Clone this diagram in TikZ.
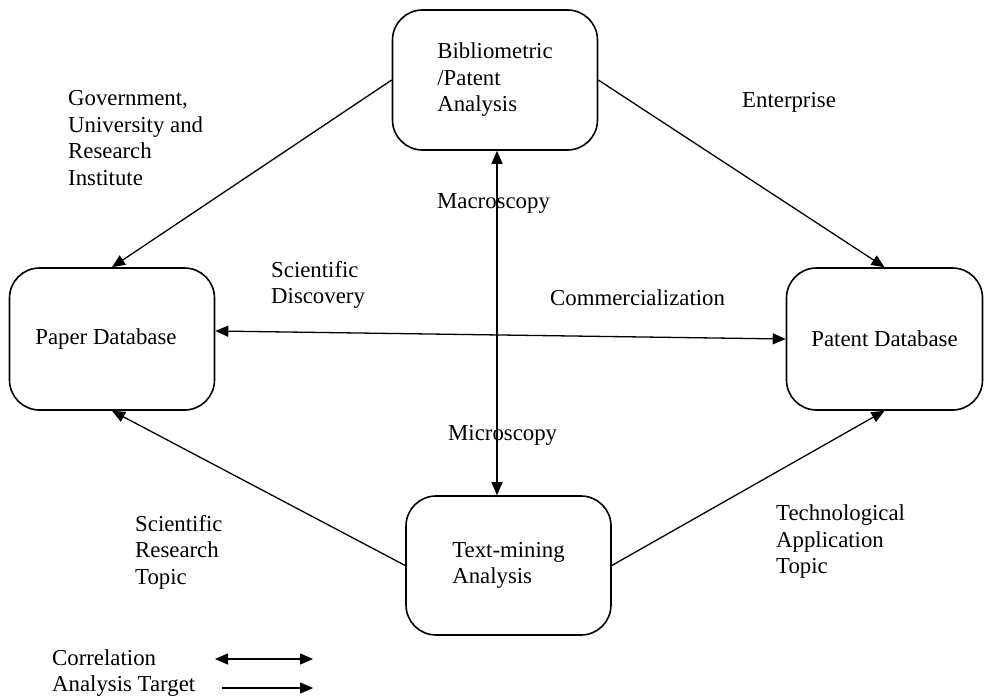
\documentclass[tikz,border=0pt]{standalone}
\usepackage{fontspec}
\setmainfont{Liberation Serif}
\usetikzlibrary{arrows.meta,calc}
\begin{document}
\begin{tikzpicture}[x=1pt,y=-1pt,
  every node/.style={font=\fontsize{22.8}{26.5}\selectfont},
  box/.style={draw,line width=1.6pt,rounded corners=30pt,align=left,inner sep=0pt},
  lbl/.style={anchor=west,align=left,inner sep=0pt},
  conn/.style={line width=1.3pt,-{Triangle[length=13pt,width=11pt]}},
  corr/.style={line width=1.3pt,{Triangle[length=13pt,width=11pt]}-{Triangle[length=13pt,width=11pt]}}]
\useasboundingbox (0,0) rectangle (985,696);
\node[box,minimum width=205pt,minimum height=140pt] (bib) at (495,80) {Bibliometric\\/Patent\\Analysis};
\node[box,minimum width=205pt,minimum height=142pt] (paper) at (112,339) {Paper Database\hspace*{12pt}};
\node[box,minimum width=196pt,minimum height=142pt] (patent) at (884.5,339) {Patent Database};
\node[box,minimum width=205pt,minimum height=139pt] (tm) at (508.5,565.5) {Text-mining\\Analysis\hspace*{10pt}};

\draw[conn] (bib.west) -- (paper.north);
\draw[conn] (bib.east) -- (patent.north);
\draw[conn] (tm.west) -- (paper.south);
\draw[conn] (tm.east) -- (patent.south);
\coordinate (vt) at ($(bib.south)+(2,0)$);
\draw[corr] (vt) -- (vt |- tm.north);
\draw[corr] ([yshift=8pt]paper.east) -- (patent.west);

\node[lbl] at (68,138) {Government,\\University and\\Research\\Institute};
\node[lbl] at (742,102) {Enterprise};
\node[lbl] at (437,203) {Macroscopy};
\node[lbl] at (271,285) {Scientific\\Discovery};
\node[lbl] at (550,298) {Commercialization};
\node[lbl] at (448,435) {Microscopy};
\node[lbl] at (135,552) {Scientific\\Research\\Topic};
\node[lbl] at (776,542) {Technological\\Application\\Topic};

\node[lbl] (lc) at (52,658) {Correlation};
\node[lbl] (la) at (52,686) {Analysis Target};
\coordinate (c1) at (215,659);
\coordinate (c2) at (313,659);
\coordinate (a1) at (222,688);
\coordinate (a2) at (313,688);
\draw[corr] (c1) -- (c2);
\draw[conn] (a1) -- (a2);
\end{tikzpicture}
\end{document}
